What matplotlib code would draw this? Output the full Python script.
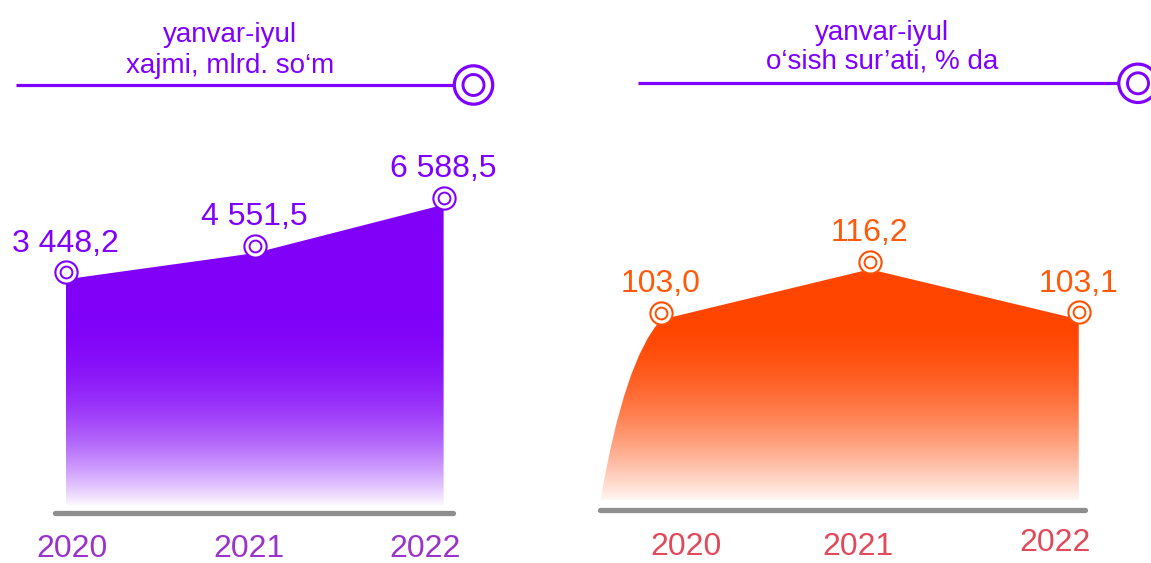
import matplotlib
matplotlib.use("Agg")
import matplotlib.pyplot as plt
import numpy as np
from matplotlib.patches import Circle, PathPatch
from matplotlib.path import Path
from matplotlib.transforms import offset_copy
from matplotlib.colors import to_rgb

# ---------------- data ----------------
years = [2020, 2021, 2022]
volume = [3448.2, 4551.5, 6588.5]
growth = [103.0, 116.2, 103.1]
volume_labels = ["3 448,2", "4 551,5", "6 588,5"]
growth_labels = ["103,0", "116,2", "103,1"]
year_labels = ["2020", "2021", "2022"]
header_left = ["yanvar-iyul", "xajmi, mlrd. so\u2018m"]
header_right = ["yanvar-iyul", "o\u2018sish sur\u2019ati, % da"]

# ---------------- style ----------------
PURPLE = "#7F00FF"
FILL_PURPLE = "#8000F8"
ORANGE = "#FF4500"
ORANGE_TXT = "#FF5A0A"
LEFT_YEAR_COLOR = "#9933CC"
RIGHT_YEAR_COLOR = "#E04A5A"
GRAY = "#8E8E8E"
FONT = "Liberation Sans"
plt.rcParams["font.family"] = [FONT, "DejaVu Sans"]

W, H = 1151, 563
fig = plt.figure(figsize=(W / 100, H / 100), dpi=100)
fig.patch.set_facecolor("white")


class PanelMap:
    """Linear mapping data -> figure pixels (y measured from top)."""

    def __init__(self, x_px_mid, x_slope, y_px0, y_slope, v0):
        self.x_px_mid, self.x_slope = x_px_mid, x_slope
        self.y_px0, self.y_slope, self.v0 = y_px0, y_slope, v0

    def x_from_px(self, px):
        return 2021 + (px - self.x_px_mid) / self.x_slope

    def v_from_px(self, py):
        return self.v0 - (py - self.y_px0) / self.y_slope

    def py_from_v(self, v):
        return self.y_px0 - (v - self.v0) * self.y_slope

    def make_axes(self):
        ax = fig.add_axes([0, 0, 1, 1])
        ax.set_axis_off()
        ax.patch.set_visible(False)
        ax.set_autoscale_on(False)
        ax.set_xlim(self.x_from_px(0), self.x_from_px(W))
        ax.set_ylim(self.v_from_px(H), self.v_from_px(0))
        return ax


def gradient_fill(ax, pmap, path, color, x0, x1, top_v, bottom_v,
                  fade_start_px, fade_end_px, power, fmax):
    n = 400
    py = np.linspace(pmap.py_from_v(top_v), pmap.py_from_v(bottom_v), n)
    s = np.clip((py - fade_start_px) / (fade_end_px - fade_start_px), 0, 1)
    f = fmax * s ** power
    c = np.array(to_rgb(color))
    rgb = c[None, :] * (1 - f[:, None]) + f[:, None]
    img = np.repeat(rgb[:, None, :], 4, axis=1)
    im = ax.imshow(img, extent=[x0, x1, bottom_v, top_v], aspect="auto",
                   origin="upper", interpolation="bilinear", zorder=1)
    patch = PathPatch(path, facecolor="none", edgecolor="none",
                      transform=ax.transData)
    ax.add_patch(patch)
    im.set_clip_path(patch)


def markers(ax, xs, ys, color):
    tr = offset_copy(ax.transData, fig=fig, x=0, y=5, units="points")
    ax.plot(xs, ys, linestyle="none", marker="o", ms=16, mfc="white",
            mec=color, mew=1.5, transform=tr, zorder=3)
    ax.plot(xs, ys, linestyle="none", marker="o", ms=8.5, mfc="none",
            mec=color, mew=1.4, transform=tr, zorder=3)


def labels(ax, xs, ys, texts, color):
    for x, y, t in zip(xs, ys, texts):
        ax.annotate(t, (x, y), xytext=(0, 20), textcoords="offset points",
                    ha="center", va="baseline", fontsize=23, color=color,
                    family=FONT, zorder=4)


# ---------------- left panel: volume ----------------
lmap = PanelMap(254.6, 189.0, 361.3, 0.023765, 0.0)
axL = lmap.make_axes()
l_bottom = lmap.v_from_px(505)
verts = [(years[0], l_bottom)] + list(zip(years, volume)) + [(years[-1], l_bottom), (years[0], l_bottom)]
codes = [Path.MOVETO] + [Path.LINETO] * (len(verts) - 2) + [Path.CLOSEPOLY]
pathL = Path(verts, codes)
gradient_fill(axL, lmap, pathL, FILL_PURPLE, years[0], years[-1], max(volume), l_bottom,
              fade_start_px=290, fade_end_px=505, power=2.5, fmax=0.97)
markers(axL, years, volume, PURPLE)
labels(axL, years, volume, volume_labels, PURPLE)

# ---------------- right panel: growth ----------------
rmap = PanelMap(869.9, 208.85, 302.77, 3.82, 107.43)
axR = rmap.make_axes()
r_bottom = rmap.v_from_px(500)
dx = 0.29
start = (years[0] - dx, r_bottom)
ctrl = (years[0] - 0.6 * dx, r_bottom + 0.78 * (growth[0] - r_bottom))
vertsR = [start, ctrl, (years[0], growth[0])] + list(zip(years[1:], growth[1:])) + \
         [(years[-1], r_bottom), start]
codesR = [Path.MOVETO, Path.CURVE3, Path.CURVE3] + [Path.LINETO] * (len(years) - 1) + \
         [Path.LINETO, Path.CLOSEPOLY]
pathR = Path(vertsR, codesR)
gradient_fill(axR, rmap, pathR, ORANGE, years[0] - dx, years[-1], max(growth), r_bottom,
              fade_start_px=320, fade_end_px=500, power=1.7, fmax=0.95)
markers(axR, years, growth, "#FF5000")
labels(axR, years, growth, growth_labels, ORANGE_TXT)

# ---------------- overlay: headers, baselines, year labels ----------------
ov = fig.add_axes([0, 0, 1, 1])
ov.set_axis_off()
ov.patch.set_visible(False)
ov.set_xlim(0, W)
ov.set_ylim(H, 0)


def header(lines, cx, baselines, line_x0, line_x1, line_y, circ_x):
    for t, b in zip(lines, baselines):
        ov.text(cx, b, t, ha="center", va="baseline", fontsize=20,
                color=PURPLE, family=FONT)
    ov.plot([line_x0, line_x1], [line_y, line_y], color=PURPLE, lw=2.3,
            solid_capstyle="butt")
    ov.add_patch(Circle((circ_x, line_y), 19.2, facecolor="white",
                        edgecolor=PURPLE, lw=2.3, zorder=3))
    ov.add_patch(Circle((circ_x, line_y), 10.5, facecolor="none",
                        edgecolor=PURPLE, lw=2.1, zorder=3))


header(header_left, 230, [41.7, 73.3], 16, 455, 85, 473.5)
header(header_right, 882, [40, 68], 638, 1120, 83.3, 1138)

ov.plot([55, 453], [513, 513], color=GRAY, lw=3.8, solid_capstyle="round")
ov.plot([600, 1085], [510, 510], color=GRAY, lw=3.8, solid_capstyle="round")

left_year_px = [(72, 557), (249, 557), (425, 557)]
right_year_px = [(686, 555), (858, 555), (1055, 551)]
for (px, py), t in zip(left_year_px, year_labels):
    ov.text(px, py, t, ha="center", va="baseline", fontsize=23,
            color=LEFT_YEAR_COLOR, family=FONT)
for (px, py), t in zip(right_year_px, year_labels):
    ov.text(px, py, t, ha="center", va="baseline", fontsize=23,
            color=RIGHT_YEAR_COLOR, family=FONT)

fig.savefig("out.png", dpi=100, facecolor="white")
